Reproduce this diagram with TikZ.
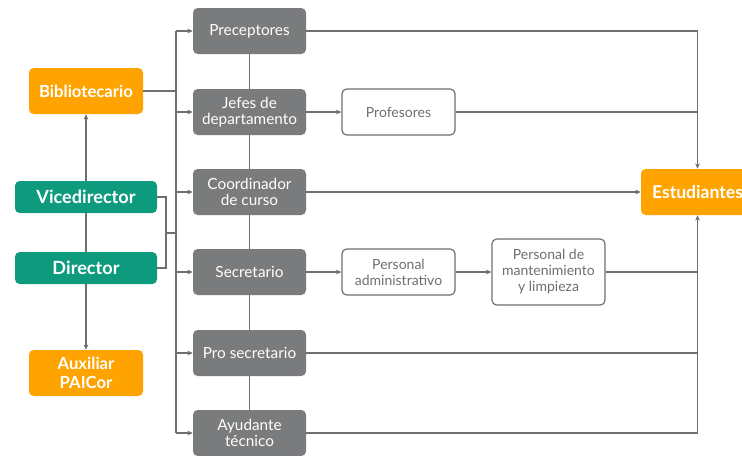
\documentclass[tikz,border=0pt]{standalone}
\usepackage{fontspec}
\setmainfont{Lato}
\usetikzlibrary{arrows.meta,positioning}
\definecolor{naranja}{HTML}{FFA300}
\definecolor{verde}{HTML}{0E9A7D}
\definecolor{gris}{HTML}{7A7B7D}
\definecolor{linea}{HTML}{6E6F72}

\begin{document}
\begin{tikzpicture}[x=0.75pt, y=-0.75pt,
    cargo/.style={fill=gris, rounded corners=3.5pt, minimum width=84.75pt, minimum height=34.5pt, inner sep=0pt, align=center, text=white, font=\fontsize{11.5}{12.5}\selectfont},
    apoyo/.style={draw=linea, line width=0.9pt, fill=white, rounded corners=3.5pt, minimum width=84.75pt, minimum height=34.5pt, inner sep=0pt, align=center, text=linea, font=\fontsize{10.5}{12}\selectfont},
    jefe/.style={fill=verde, rounded corners=3.5pt, minimum width=106.5pt, minimum height=24pt, inner sep=0pt, text=white, font=\bfseries\fontsize{13.6}{15}\selectfont},
    extra/.style={fill=naranja, rounded corners=3.5pt, minimum width=85.5pt, minimum height=34.5pt, inner sep=0pt, align=center, text=white, font=\bfseries\fontsize{12.5}{14}\selectfont},
    conector/.style={draw=linea, line width=0.9pt},
    flecha/.style={conector, -{Stealth[length=4pt, width=3.5pt]}}
]
    \useasboundingbox (0,0) rectangle (742,455);

    % columna izquierda
    \node[extra] (bib) at (86,91) {Bibliotecario};
    \node[jefe] (vice) at (86,197) {Vicedirector};
    \node[jefe] (dir) at (86,268) {Director};
    \node[extra] (aux) at (86,373) {Auxiliar\\PAICor};

    % cargos
    \node[cargo] (prec) at (249.5,31) {Preceptores};
    \node[cargo] (jefes) at (249.5,112) {Jefes de\\departamento};
    \node[cargo] (coord) at (249.5,192) {Coordinador\\de curso};
    \node[cargo] (secr) at (249.5,272) {Secretario};
    \node[cargo] (prosec) at (249.5,353) {Pro secretario};
    \node[cargo] (ayud) at (249.5,433) {Ayudante\\técnico};

    \node[apoyo] (prof) at (398.5,112) {Profesores};
    \node[apoyo] (padm) at (398.5,272) {Personal\\administrativo};
    \node[apoyo, minimum height=49.5pt] (mant) at (548.5,272) {Personal de\\mantenimiento\\y limpieza};

    \node[extra, minimum width=84.75pt, font=\bfseries\fontsize{13.2}{15}\selectfont] (est) at (697.5,192) {Estudiantes};

    \coordinate (tronco) at (176,0);
    \coordinate (union) at (166,233);
    \coordinate (colector) at (697,0);

    % direccion
    \draw[flecha] (vice.north) -- (bib.south);
    \draw[conector] (dir.north) -- (vice.south);
    \draw[flecha] (dir.south) -- (aux.north);
    \draw[conector] (vice.east) -| (union) |- (dir.east);
    \draw[conector] (union) -- (tronco |- union);
    \draw[conector] (bib.east) -- (tronco |- bib.east);
    \draw[conector] (tronco |- prec.west) -- (tronco |- ayud.west);
    \foreach \c in {prec, jefes, coord, secr, prosec, ayud}
        \draw[flecha] (tronco |- \c.west) -- (\c.west);
    \foreach \a/\b in {prec/jefes, jefes/coord, coord/secr, secr/prosec, prosec/ayud}
        \draw[conector] (\a.south) -- (\b.north);

    % hacia estudiantes
    \draw[flecha] (jefes) -- (prof);
    \draw[flecha] (secr) -- (padm);
    \draw[flecha] (padm) -- (mant);
    \draw[flecha] (prec.east) -| (est.north);
    \draw[conector] (prof.east) -- (colector |- prof.east);
    \draw[flecha] (coord.east) -- (est.west);
    \draw[conector] (mant.east) -- (colector |- mant.east);
    \draw[conector] (prosec.east) -- (colector |- prosec.east);
    \draw[flecha] (ayud.east) -| (est.south);
\end{tikzpicture}
\end{document}
